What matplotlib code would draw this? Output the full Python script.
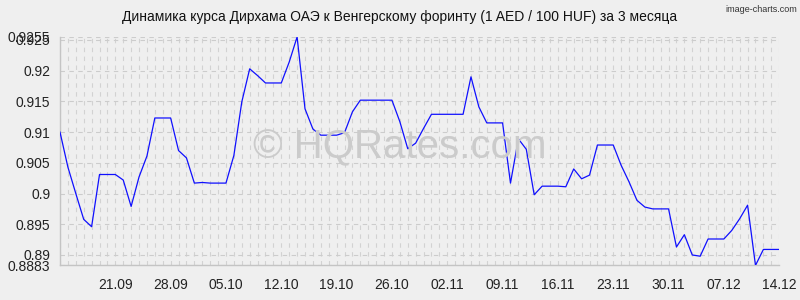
import matplotlib
matplotlib.use("Agg")
import matplotlib.pyplot as plt
import pandas as pd

# daily rate, 1 AED / 100 HUF, 14.09 - 14.12
start_date = "2024-09-14"
rates = [
    0.9100, 0.9043, 0.9000, 0.8958, 0.8946, 0.9031, 0.9031, 0.9031, 0.9022, 0.8979,
    0.9027, 0.9061, 0.9123, 0.9123, 0.9123, 0.9070, 0.9058, 0.9017, 0.9018, 0.9017,
    0.9017, 0.9017, 0.9062, 0.9149, 0.9203, 0.9192, 0.9180, 0.9180, 0.9180, 0.9214,
    0.9255, 0.9138, 0.9105, 0.9095, 0.9095, 0.9095, 0.9099, 0.9133, 0.9152, 0.9152,
    0.9152, 0.9152, 0.9152, 0.9117, 0.9073, 0.9082, 0.9106, 0.9129, 0.9129, 0.9129,
    0.9129, 0.9129, 0.9190, 0.9141, 0.9115, 0.9115, 0.9115, 0.9017, 0.9089, 0.9072,
    0.8998, 0.9012, 0.9012, 0.9012, 0.9011, 0.9040, 0.9024, 0.9030, 0.9079, 0.9079,
    0.9079, 0.9046, 0.9019, 0.8989, 0.8978, 0.8975, 0.8975, 0.8975, 0.8913, 0.8933,
    0.8900, 0.8898, 0.8926, 0.8926, 0.8926, 0.8940, 0.8959, 0.8981, 0.8883, 0.8909,
    0.8909, 0.8909,
]
y_ticks = [0.8883, 0.89, 0.895, 0.9, 0.905, 0.91, 0.915, 0.92, 0.925, 0.9255]
x_labels = ["21.09", "28.09", "05.10", "12.10", "19.10", "26.10", "02.11",
            "09.11", "16.11", "23.11", "30.11", "07.12", "14.12"]

title = "Динамика курса Дирхама ОАЭ к Венгерскому форинту (1 AED / 100 HUF) за 3 месяца"

#---------------------------------------------------------------------------------------------------------------------------#

dates = pd.date_range(start_date, periods=len(rates), freq="D")
df = pd.DataFrame({"date": dates, "rate": rates})

bg = "#efefef"
plt.rcParams["font.family"] = ["Liberation Sans", "DejaVu Sans"]

fig = plt.figure(figsize=(8, 3), dpi=100, facecolor=bg)
ax = fig.add_axes([0.075, 0.1153, 0.899, 0.7617])
ax.set_facecolor(bg)

ax.plot(df["date"], df["rate"], color="#1010ff", lw=0.9, zorder=3)

ax.set_xlim(df["date"].iloc[0], df["date"].iloc[-1])
ax.set_ylim(min(y_ticks), max(y_ticks))

# day grid + value grid, dashed
for d in df["date"]:
    ax.axvline(d, color="#d2d2d2", lw=0.8, ls=(0, (4, 4)), zorder=1)
for v in y_ticks:
    ax.axhline(v, color="#cccccc", lw=0.8, ls=(0, (4, 4)), zorder=1)

tick_dates = [pd.Timestamp(f"2024-{s[3:]}-{s[:2]}") for s in x_labels]
ax.set_xticks(tick_dates)
ax.set_xticklabels(x_labels)
ax.set_yticks(y_ticks)
ax.set_yticklabels([f"{v:g}" for v in y_ticks])
ax.tick_params(axis="both", length=0, labelsize=10, colors="#222222")
ax.tick_params(axis="x", pad=9)
ax.tick_params(axis="y", pad=7)

for side in ["top", "right"]:
    ax.spines[side].set_visible(False)
for side in ["left", "bottom"]:
    ax.spines[side].set_color("#c4c4c4")
    ax.spines[side].set_linewidth(1.0)

fig.text(0.5, 0.943, title, ha="center", va="center", fontsize=10, color="#111111")
fig.text(0.996, 0.985, "image-charts.com", ha="right", va="top", fontsize=6.5,
         color="#333333")

# watermark
fig.text(0.5, 0.51, "© HQRates.com", ha="center", va="center",
         fontsize=29, color="#cbcbcb", zorder=2)

fig.savefig("out.png", dpi=100, facecolor=bg)
